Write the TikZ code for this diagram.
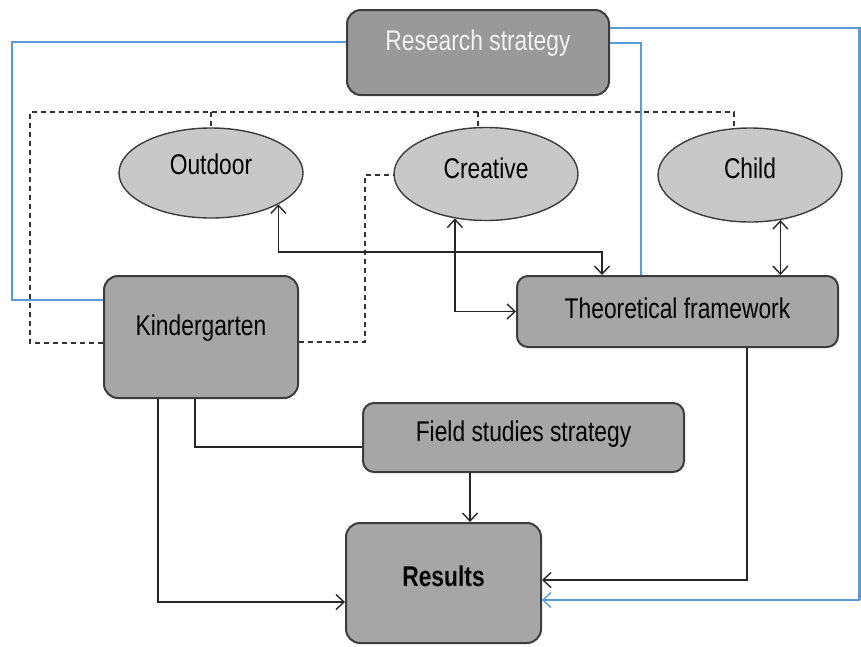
\documentclass[tikz,border=0pt]{standalone}
\usepackage{fontspec}
\setmainfont{Liberation Sans}[FakeStretch=0.8]
\usetikzlibrary{shapes.geometric,arrows.meta}
\definecolor{boxfill}{HTML}{A6A6A6}
\definecolor{ellfill}{HTML}{C8C8C8}
\definecolor{edge}{HTML}{3C3C3C}
\definecolor{bluel}{HTML}{5B9BD5}
\tikzset{
  boxnode/.style={draw=edge, line width=2pt, fill=boxfill, rounded corners=14pt, inner sep=0pt},
  ellnode/.style={ellipse, draw=edge, line width=1.4pt, fill=ellfill, inner sep=0pt},
  lbl/.style={font=\fontsize{28.5}{31}\selectfont},
  conn/.style={draw=black!85, line width=1.4pt},
  arrone/.style={-{Straight Barb[length=8pt,width=15pt]}},
  arrtwo/.style={{Straight Barb[length=8pt,width=15pt]}-{Straight Barb[length=8pt,width=15pt]}},
  blueline/.style={draw=bluel, line width=2.5pt},
  dashline/.style={draw=black!80, line width=1.4pt, dash pattern=on 5pt off 4pt}
}
\begin{document}
\begin{tikzpicture}[x=1pt,y=-1pt]
\useasboundingbox (0,0) rectangle (861,646);
% boxes
\node[boxnode, fill=boxfill!92!black, minimum width=262pt, minimum height=85pt,
  label={[lbl, text=white!95!black, yshift=9.5pt]center:Research strategy}] (rs) at (478,52.5) {};
\node[boxnode, minimum width=194pt, minimum height=122pt,
  label={[lbl, yshift=9pt]center:Kindergarten}] (kg) at (201,337) {};
\node[boxnode, rounded corners=11pt, minimum width=321pt, minimum height=71pt,
  label={[lbl, yshift=3pt]center:Theoretical framework}] (tf) at (677.5,311.5) {};
\node[boxnode, rounded corners=11pt, minimum width=321pt, minimum height=69pt,
  label={[lbl, yshift=3pt]center:Field studies strategy}] (fs) at (523.5,437.5) {};
\node[boxnode, minimum width=195pt, minimum height=120pt,
  label={[lbl, font=\fontsize{28.5}{31}\selectfont\bfseries, yshift=7pt]center:Results}] (res) at (443.5,583) {};
% ellipses
\node[ellnode, minimum width=184pt, minimum height=90pt,
  label={[lbl, yshift=9pt]center:Outdoor}] (od) at (211,173) {};
\node[ellnode, minimum width=184pt, minimum height=93pt,
  label={[lbl, yshift=6pt]center:Creative}] (cr) at (486,174) {};
\node[ellnode, minimum width=184pt, minimum height=94pt,
  label={[lbl, yshift=7pt]center:Child}] (ch) at (750,175) {};
% blue connectors
\draw[blueline] (rs.west |- 0,42) -- (12,42) -- (12,300) -- (kg.west |- 0,300);
\draw[blueline] (rs.east |- 0,43) -- (641,43) -- (tf.north -| 641,0);
\draw[blueline] (rs.east |- 0,28) -- (859.5,28) -- (859.5,600);
\coordinate (bl) at (859.5,600);
\draw[draw=bluel, line width=1.3pt, arrone] (bl) -- (res.east |- 0,600);
% dashed connectors
\draw[dashline] (kg.west |- 0,343) -- (30,343) -- (30,112) -- (734,112) -- (734,129);
\draw[dashline] (211,112) -- (od.north);
\draw[dashline] (478,112) -- (cr.north -| 478,0);
\draw[dashline] (kg.east |- 0,342) -- (365,342) -- (365,175) -- (cr.west |- 0,175);
% black connectors
\draw[conn, arrtwo] (od.-25) -- (od.-25 |- 0,252) -- (602,252) -- (tf.north -| 602,0);
\draw[conn, arrtwo] (cr.-125) |- (tf.west);
\draw[conn, arrtwo] (ch.-56) -- (ch.-56 |- tf.north);
\draw[conn, arrone] (tf.south -| 747,0) |- (res.east |- 0,580);
\draw[conn] (kg.south -| 195,0) |- (fs.west |- 0,447);
\draw[conn, arrone] (kg.south -| 158,0) |- (res.west |- 0,602);
\draw[conn, arrone] (fs.south -| 470,0) -- (res.north -| 470,0);
\end{tikzpicture}
\end{document}
